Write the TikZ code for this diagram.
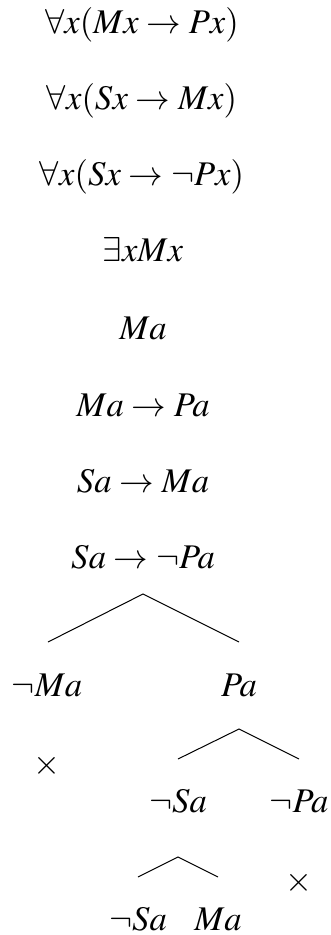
\documentclass[tikz,border=0pt]{standalone}
\usepackage{amsmath,amssymb}
\usepackage{mathptmx}
\usepackage{tikz}

\begin{document}
\begin{tikzpicture}[x=0.5pt,y=-0.5pt,
  frm/.style={anchor=base,inner sep=0pt,font=\fontsize{17.3}{21}\selectfont},
  cls/.style={inner sep=0pt,font=\fontsize{17.3}{21}\selectfont}]
\useasboundingbox (0,0) rectangle (331,935);
% trunk
\node[frm] (p1) at (142,34) {$\forall x(Mx\to Px)$};
\node[frm] (p2) at (142,110) {$\forall x(Sx\to Mx)$};
\node[frm] (p3) at (142,186) {$\forall x(Sx\to\neg Px)$};
\node[frm] (p4) at (143,262) {$\exists xMx$};
\node[frm] (p5) at (143,339) {$Ma$};
\node[frm] (p6) at (143,416) {$Ma\to Pa$};
\node[frm] (p7) at (143,492) {$Sa\to Ma$};
\node[frm] (p8) at (143,568) {$Sa\to\neg Pa$};
% first split
\node[frm] (nma) at (47,696) {$\neg Ma$};
\node[frm] (pa) at (239,696) {$Pa$};
\node[cls] (x1) at (47,766) {$\times$};
% second split
\node[frm] (nsa) at (178,812) {$\neg Sa$};
\node[frm] (npa) at (299,812) {$\neg Pa$};
\node[cls] (x2) at (299,883) {$\times$};
% third split
\node[frm] (nsb) at (138,930) {$\neg Sa$};
\node[frm] (mb) at (218,930) {$Ma$};
% branch points
\coordinate (t1) at (143,594);
\coordinate (t1l) at (48,642);
\coordinate (t1r) at (239,642);
\coordinate (t2) at (239,729);
\coordinate (t2l) at (178,759);
\coordinate (t2r) at (299,759);
\coordinate (t3) at (178,857);
\coordinate (t3l) at (138,877);
\coordinate (t3r) at (218,877);
\draw[line width=0.5pt] (t1l) -- (t1) -- (t1r);
\draw[line width=0.5pt] (t2l) -- (t2) -- (t2r);
\draw[line width=0.5pt] (t3l) -- (t3) -- (t3r);
\end{tikzpicture}
\end{document}
